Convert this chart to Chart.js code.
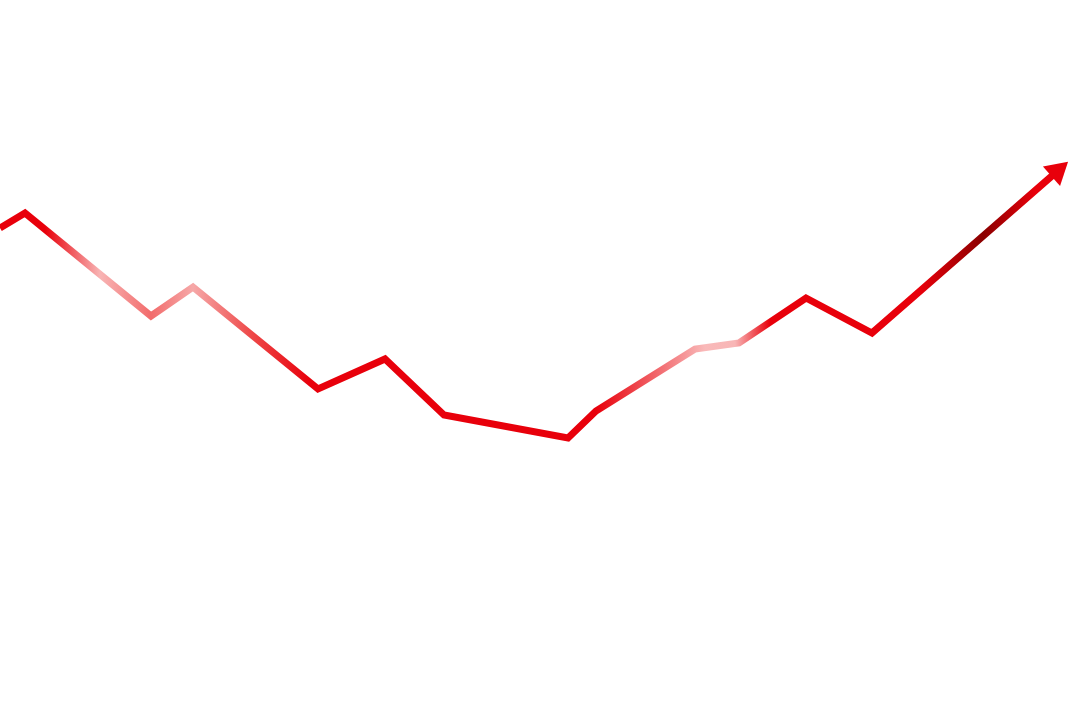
<!DOCTYPE html>
<html lang="en">
<head>
  <meta charset="UTF-8" />
  <title>Trend</title>
  <script src="https://cdn.jsdelivr.net/npm/chart.js"></script>
  <style>
    html, body { margin: 0; padding: 0; background: #fff; }
    #wrap { width: 1080px; height: 720px; }
  </style>
</head>
<body>
<div id="wrap"><canvas id="trend"></canvas></div>
<script>
  // Data
  const xs = [0, 2.5, 15.1, 19.3, 31.8, 38.5, 44.4, 56.8, 59.6, 69.5, 73.9, 80.6, 87.2, 105.3];
  const ys = [49.2, 50.7, 40.4, 43.3, 33.1, 36.1, 30.5, 28.2, 30.9, 37.1, 37.7, 42.2, 38.7, 54.5];

  const red = '#e8000b';

  // gradient along x
  function lineGradient(ctx, area) {
    const g = ctx.createLinearGradient(area.left, 0, area.right, 0);
    const stops = [
      [0, red], [45, red], [100, '#f8b4b4'], [151, '#f26b6b'], [193, '#f6a8a8'],
      [250, '#ee4a4a'], [310, red], [596, red], [705, '#f9b9b9'], [735, '#f8b6b6'], [770, red],
      [920, red], [983, '#8a0000'], [1035, red], [1080, red]
    ];
    stops.forEach(s => g.addColorStop(s[0] / 1080, s[1]));
    return g;
  }

  // arrow head at the end of the line
  const arrowHead = {
    id: 'arrowHead',
    afterDatasetsDraw(chart) {
      const pts = chart.getDatasetMeta(0).data;
      const a = pts[pts.length - 2], b = pts[pts.length - 1];
      const ang = Math.atan2(b.y - a.y, b.x - a.x);
      const len = 20, half = 13;
      const c = chart.ctx;
      c.save();
      c.translate(b.x, b.y);
      c.rotate(ang);
      c.beginPath();
      c.moveTo(len, 0);
      c.lineTo(-2, -half);
      c.lineTo(-2, half);
      c.closePath();
      c.fillStyle = red;
      c.fill();
      c.restore();
    }
  };

  new Chart(document.getElementById('trend'), {
    type: 'line',
    data: {
      datasets: [{
        data: xs.map((x, i) => ({ x: x, y: ys[i] })),
        borderWidth: 7,
        borderJoinStyle: 'miter',
        borderCapStyle: 'butt',
        pointRadius: 0,
        tension: 0,
        borderColor: (context) => {
          const area = context.chart.chartArea;
          if (!area) return red;
          return lineGradient(context.chart.ctx, area);
        }
      }]
    },
    options: {
      responsive: true,
      maintainAspectRatio: false,
      animation: false,
      layout: { padding: 0 },
      plugins: { legend: { display: false }, tooltip: { enabled: false } },
      scales: {
        x: { type: 'linear', min: 0, max: 108, display: false },
        y: { min: 0, max: 72, display: false }
      }
    },
    plugins: [arrowHead]
  });
</script>
</body>
</html>
